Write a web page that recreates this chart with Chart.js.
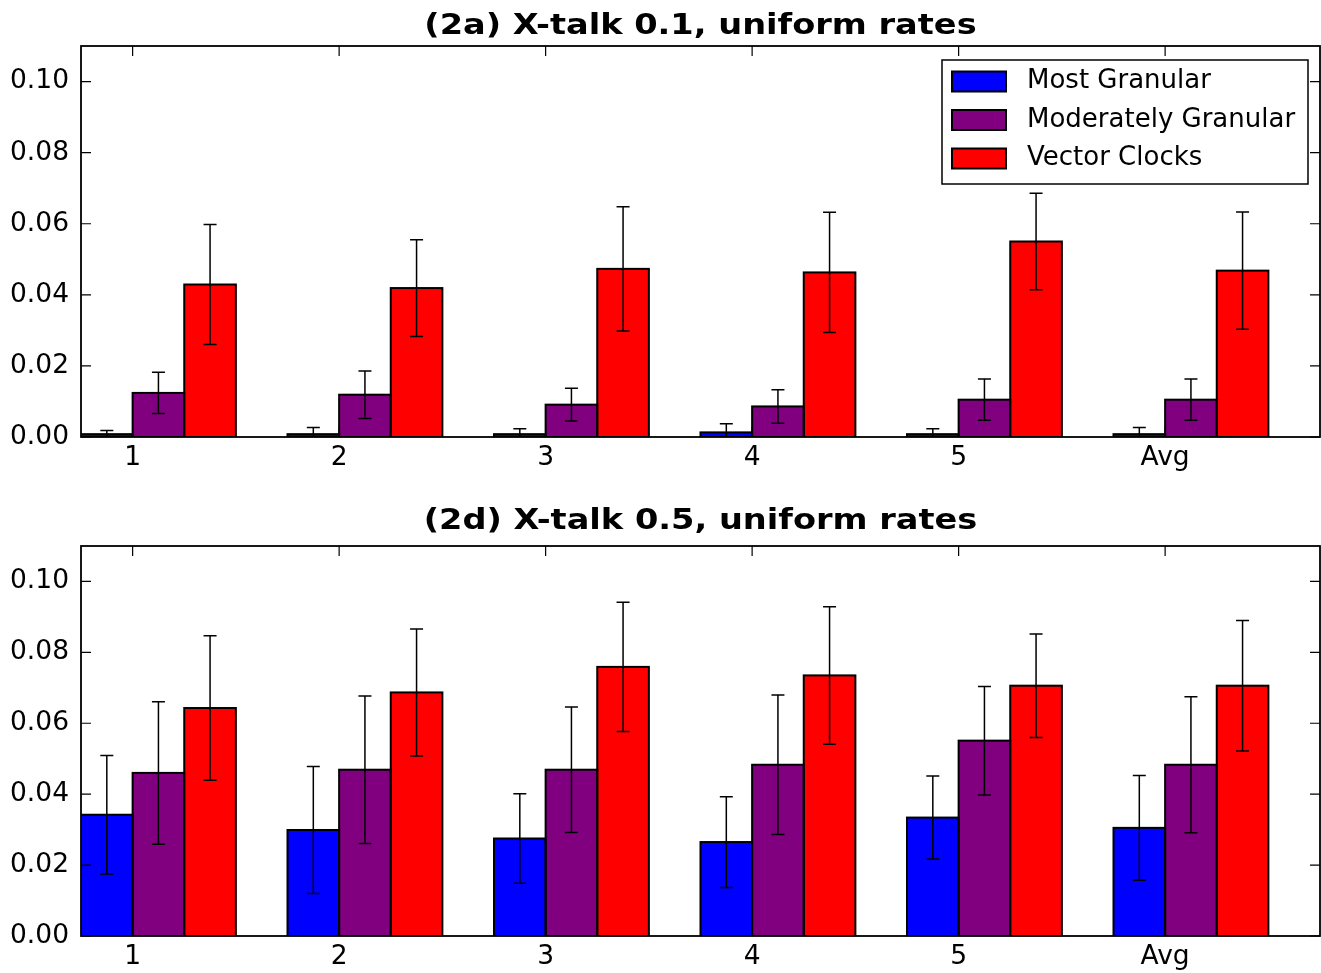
<!DOCTYPE html>
<html><head><meta charset="utf-8">
<script src="https://cdn.jsdelivr.net/npm/chart.js@4.4.1/dist/chart.umd.min.js"></script>
<style>
html,body{margin:0;padding:0;background:#fff;}
#wrap{position:relative;width:1321px;height:973px;overflow:hidden;background:#fff}
canvas{position:absolute;left:0;}
</style></head><body>
<div id="wrap">
<canvas id="c1" width="1321" height="487" style="top:0px"></canvas>
<canvas id="c2" width="1321" height="486" style="top:487px"></canvas>
</div>
<script>
// ---------- data ----------
const categories = ['1', '2', '3', '4', '5', 'Avg'];
const seriesNames = ['Most Granular', 'Moderately Granular', 'Vector Clocks'];
const seriesColors = ['#0000ff', '#800080', '#ff0000'];
const yTickValues = [0.00, 0.02, 0.04, 0.06, 0.08, 0.10];
const titleA = '(2a) X-talk 0.1, uniform rates';
const titleD = '(2d) X-talk 0.5, uniform rates';

// (2a) X-talk 0.1
const aMost    = [0.0008, 0.0008, 0.0008, 0.0013, 0.0008, 0.0008];
const aMostErr = [0.0010, 0.0019, 0.0015, 0.0024, 0.0015, 0.0019];
const aMod     = [0.0124, 0.0119, 0.0091, 0.0086, 0.0105, 0.0105];
const aModErr  = [0.0058, 0.0067, 0.0046, 0.0047, 0.0058, 0.0058];
const aVC      = [0.0429, 0.0419, 0.0473, 0.0463, 0.0550, 0.0468];
const aVCErr   = [0.0169, 0.0136, 0.0175, 0.0169, 0.0136, 0.0165];

// (2d) X-talk 0.5
const dMost    = [0.0342, 0.0299, 0.0275, 0.0265, 0.0334, 0.0305];
const dMostErr = [0.0167, 0.0179, 0.0126, 0.0128, 0.0117, 0.0148];
const dMod     = [0.0460, 0.0469, 0.0469, 0.0483, 0.0551, 0.0483];
const dModErr  = [0.0201, 0.0208, 0.0177, 0.0197, 0.0153, 0.0192];
const dVC      = [0.0643, 0.0687, 0.0759, 0.0735, 0.0706, 0.0706];
const dVCErr   = [0.0204, 0.0179, 0.0182, 0.0194, 0.0146, 0.0184];

// ---------- plugins ----------
const FONT = "'DejaVu Sans', sans-serif";

// bar edges (centred on the bar outline, like matplotlib) + error bars
const errorBarPlugin = {
  id: 'errbars',
  afterDatasetsDraw(chart) {
    const ctx = chart.ctx, ys = chart.scales.y, a = chart.chartArea;
    ctx.save();
    ctx.beginPath();
    ctx.rect(a.left, a.top, a.right - a.left, a.bottom - a.top);
    ctx.clip();
    ctx.strokeStyle = '#000';
    ctx.lineWidth = 2;
    chart.data.datasets.forEach((ds, di) => {
      const meta = chart.getDatasetMeta(di);
      meta.data.forEach((bar) => {
        const p = bar.getProps(['x', 'y', 'base', 'width'], true);
        ctx.strokeRect(p.x - p.width / 2, Math.min(p.y, p.base), p.width, Math.abs(p.base - p.y));
      });
    });
    ctx.lineWidth = 1.5;
    chart.data.datasets.forEach((ds, di) => {
      const meta = chart.getDatasetMeta(di);
      meta.data.forEach((bar, i) => {
        const v = ds.data[i].y, e = ds.errors[i];
        const x = bar.x;
        const yt = ys.getPixelForValue(v + e), yb = ys.getPixelForValue(v - e);
        const cap = 6.5;
        ctx.beginPath();
        ctx.moveTo(x, yt); ctx.lineTo(x, yb);
        ctx.moveTo(x - cap, yt); ctx.lineTo(x + cap, yt);
        ctx.moveTo(x - cap, yb); ctx.lineTo(x + cap, yb);
        ctx.stroke();
      });
    });
    ctx.restore();
  }
};

const framePlugin = {
  id: 'mplFrame',
  afterDraw(chart, args, opts) {
    const ctx = chart.ctx, a = chart.chartArea, xs = chart.scales.x, ys = chart.scales.y;
    const tl = 10;
    ctx.save();
    ctx.strokeStyle = '#000';
    ctx.lineWidth = 1.2;
    ctx.beginPath();
    ys.ticks.forEach(t => {
      const y = ys.getPixelForValue(t.value);
      ctx.moveTo(a.left, y); ctx.lineTo(a.left + tl, y);
      ctx.moveTo(a.right, y); ctx.lineTo(a.right - tl, y);
    });
    xs.ticks.forEach(t => {
      const x = xs.getPixelForValue(t.value);
      ctx.moveTo(x, a.top); ctx.lineTo(x, a.top + tl);
      ctx.moveTo(x, a.bottom); ctx.lineTo(x, a.bottom - tl);
    });
    ctx.stroke();
    ctx.lineWidth = 1.8;
    ctx.strokeRect(a.left, a.top, a.right - a.left, a.bottom - a.top);
    // title (matplotlib-style, slightly wide bold face)
    if (opts.title) {
      ctx.fillStyle = '#000';
      ctx.font = 'bold 28px ' + FONT;
      ctx.textAlign = 'center';
      ctx.textBaseline = 'alphabetic';
      ctx.translate((a.left + a.right) / 2, opts.titleY);
      ctx.scale(1.2, 1);
      ctx.fillText(opts.title, 0, 0);
    }
    ctx.restore();
  }
};

const legendPlugin = {
  id: 'mplLegend',
  afterDraw(chart, args, opts) {
    if (!opts.show) return;
    const ctx = chart.ctx, a = chart.chartArea;
    const bw = 366, bh = 124;
    const bx = a.right - 12 - bw, by = a.top + 14;
    ctx.save();
    ctx.fillStyle = '#fff';
    ctx.fillRect(bx, by, bw, bh);
    ctx.strokeStyle = '#000';
    ctx.lineWidth = 1.5;
    ctx.strokeRect(bx, by, bw, bh);
    ctx.font = '26px ' + FONT;
    ctx.textBaseline = 'middle';
    ctx.textAlign = 'left';
    chart.data.datasets.forEach((ds, i) => {
      const cy = by + 21.5 + i * 38.5;
      ctx.fillStyle = ds.backgroundColor;
      ctx.fillRect(bx + 10, cy - 10, 54, 20);
      ctx.lineWidth = 2;
      ctx.strokeRect(bx + 10, cy - 10, 54, 20);
      ctx.fillStyle = '#000';
      ctx.fillText(ds.label, bx + 85, cy);
    });
    ctx.restore();
  }
};

// ---------- builder ----------
function makeDatasets(vals, errs) {
  return vals.map((arr, s) => ({
    label: seriesNames[s],
    data: arr.map((v, i) => ({ x: i + 0.375, y: v })),
    errors: errs[s],
    backgroundColor: seriesColors[s],
    borderWidth: 0,
    categoryPercentage: 0.75,
    barPercentage: 1.0
  }));
}

function makeChart(id, title, vals, errs, padTop, titleY, xAxisH, showLegend) {
  return new Chart(document.getElementById(id), {
    type: 'bar',
    data: { datasets: makeDatasets(vals, errs) },
    options: {
      responsive: false,
      animation: false,
      devicePixelRatio: 1,
      layout: { padding: { left: 0, right: 1, top: padTop, bottom: 0 } },
      plugins: {
        legend: { display: false },
        tooltip: { enabled: false },
        title: { display: false },
        mplFrame: { title: title, titleY: titleY },
        mplLegend: { show: showLegend }
      },
      scales: {
        x: {
          type: 'linear',
          min: 0, max: 6,
          offset: false,
          grid: { display: false, drawTicks: false, offset: false },
          border: { display: false },
          afterBuildTicks: (scale) => { scale.ticks = categories.map((c, i) => ({ value: i + 0.25 })); },
          afterFit: (scale) => { scale.height = xAxisH; },
          ticks: {
            autoSkip: false,
            maxRotation: 0,
            padding: 5,
            color: '#000',
            font: { family: FONT, size: 26.5 },
            callback: (v, idx) => categories[idx]
          }
        },
        y: {
          type: 'linear',
          min: 0, max: 0.11,
          grid: { display: false, drawTicks: false },
          border: { display: false },
          afterBuildTicks: (scale) => { scale.ticks = yTickValues.map(v => ({ value: v })); },
          afterFit: (scale) => { scale.width = 81; },
          ticks: {
            padding: 12,
            color: '#000',
            font: { family: FONT, size: 26.5 },
            callback: (v) => Number(v).toFixed(2)
          }
        }
      }
    },
    plugins: [errorBarPlugin, framePlugin, legendPlugin]
  });
}

makeChart('c1', titleA, [aMost, aMod, aVC], [aMostErr, aModErr, aVCErr], 46, 33.5, 50, true);
makeChart('c2', titleD, [dMost, dMod, dVC], [dMostErr, dModErr, dVCErr], 59, 42, 37, false);
</script>
</body></html>
